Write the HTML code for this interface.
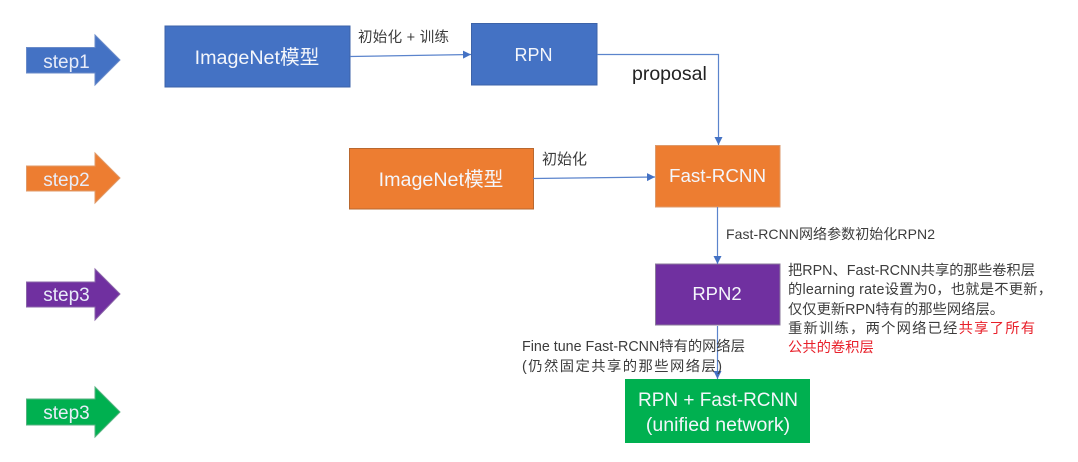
<!DOCTYPE html>
<html><head><meta charset="utf-8">
<style>
html,body{margin:0;padding:0;background:#fff}
svg{display:block}
text{font-family:"Liberation Sans","Noto Sans CJK SC",sans-serif}
.w{fill:#f4f6fb;text-anchor:middle;font-size:18.500px}
.s{fill:#e8ecf8;text-anchor:middle;font-size:19px}
.k{fill:#3c3c3c;font-size:14.300px}
</style></head><body>
<svg width="1078" height="462" viewBox="0 0 1078 462" xmlns="http://www.w3.org/2000/svg">
<defs><marker id="a" markerWidth="9" markerHeight="9" refX="8" refY="4" orient="auto" markerUnits="userSpaceOnUse"><path d="M0 0L8 4L0 8Z" fill="#4472c4"/></marker></defs>
<rect width="1078" height="462" fill="#fff"/>
<path d="M26.500 47.500H95V35L120 60L95 85V73H26.500Z" fill="#4472c4" stroke="#6a8bc9"/>
<path d="M26.500 166H95V153L120 178L95 203V191H26.500Z" fill="#ed7d31" stroke="#e09a68"/>
<path d="M26.500 282H95V269L120 294L95 320V307H26.500Z" fill="#7030a0" stroke="#8a65a8"/>
<path d="M26.500 399H95V387L120 412L95 437V425H26.500Z" fill="#00b050" stroke="#55b27f"/>
<text class="s" x="66.500" y="68">step1</text>
<text class="s" x="66.500" y="186">step2</text>
<text class="s" x="66.500" y="301">step3</text>
<text class="s" x="66.500" y="419">step3</text>
<rect x="165" y="26" width="185" height="61" fill="#4472c4" stroke="#3d63a8"/>
<rect x="471.500" y="23.500" width="125.500" height="61.500" fill="#4472c4" stroke="#3d63a8"/>
<rect x="349.500" y="148.500" width="184" height="60.500" fill="#ed7d31" stroke="#b9682f"/>
<rect x="655.500" y="145.500" width="124.500" height="61.500" fill="#ed7d31" stroke="#dd9a6c"/>
<rect x="655.500" y="264" width="124.500" height="61" fill="#7030a0" stroke="#8a7a9a"/>
<rect x="625" y="379" width="185" height="64" fill="#00b050"/>
<text class="w" x="257" y="64" style="font-size:19.700px">ImageNet模型</text>
<text class="w" x="533.500" y="61" style="font-size:18px">RPN</text>
<text class="w" x="441" y="186" style="font-size:19.700px">ImageNet模型</text>
<text class="w" x="717.500" y="182" style="font-size:18.800px">Fast-RCNN</text>
<text class="w" x="717" y="300">RPN2</text>
<text class="w" x="718" y="406" style="font-size:19px">RPN + Fast-RCNN</text>
<text class="w" x="718" y="431" style="font-size:19.500px">(unified network)</text>
<g fill="none" stroke="#5b84cc" stroke-width="1.200" marker-end="url(#a)">
<path d="M350 56.500L471 54.500"/>
<path d="M597 54.500H718.500V145"/>
<path d="M533 178.500L655 177"/>
<path d="M717.500 207V264"/>
<path d="M717.500 326V379"/>
</g>
<text class="k" x="358" y="42" style="font-size:14.500px" textLength="91">初始化 + 训练</text>
<text x="632" y="80" font-size="19.500" fill="#222">proposal</text>
<text class="k" x="542" y="164" style="font-size:15px">初始化</text>
<text class="k" x="726" y="239" style="font-size:14px" textLength="209">Fast-RCNN网络参数初始化RPN2</text>
<text class="k" x="788" y="275" textLength="247">把RPN、Fast-RCNN共享的那些卷积层</text>
<text class="k" x="788" y="294" textLength="264">的learning rate设置为0，也就是不更新，</text>
<text class="k" x="788" y="314">仅仅更新RPN特有的那些网络层。</text>
<text class="k" x="788" y="333" textLength="247">重新训练，两个网络已经<tspan fill="#e8202a">共享了所有</tspan></text>
<text class="k" x="788" y="352" style="fill:#e8202a">公共的卷积层</text>
<text class="k" x="522" y="351" textLength="223">Fine tune Fast-RCNN特有的网络层</text>
<text class="k" x="522" y="371" textLength="200">(仍然固定共享的那些网络层)</text>
</svg>
</body></html>
